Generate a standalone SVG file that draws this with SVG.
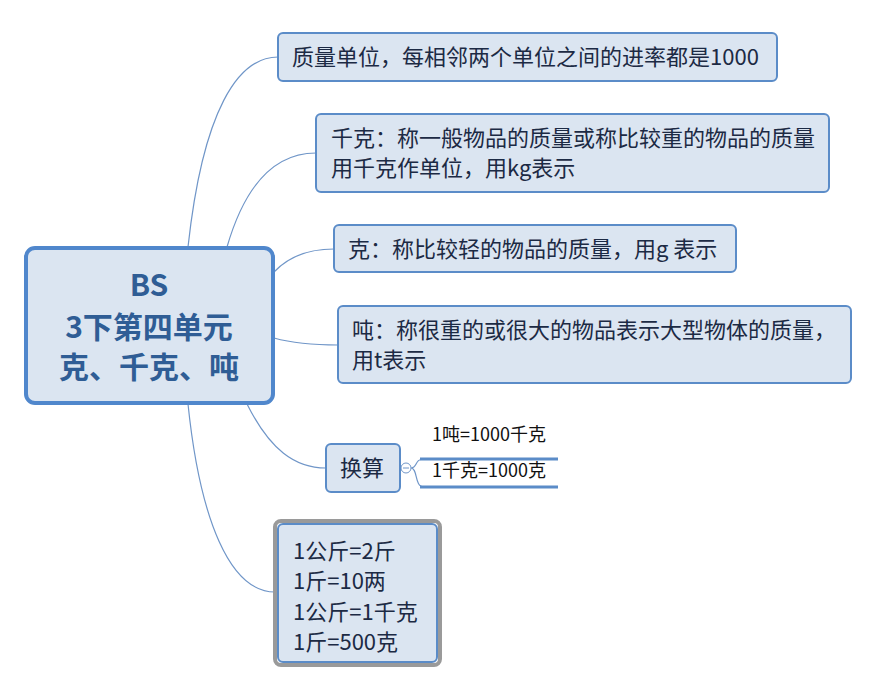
<svg xmlns="http://www.w3.org/2000/svg" width="886" height="688" viewBox="0 0 886 688">
<style>
.box{fill:#dbe5f1;stroke:#5b8cc8;stroke-width:2}
.t{font-family:"Noto Sans CJK SC","Microsoft YaHei",sans-serif;font-size:22px;fill:#1c2a44}
.s{font-family:"Noto Sans CJK SC",sans-serif;font-size:18px;fill:#111}
.c{font-family:"Noto Sans CJK SC",sans-serif;font-size:30px;font-weight:bold;fill:#2f5d95;text-anchor:middle}
.ln{fill:none;stroke:#7096c8;stroke-width:1.2}
</style>
<rect width="886" height="688" fill="#ffffff"/>
<g id="connectors">
<path class="ln" d="M188,247 C203,110 238,57 278,57"/>
<path class="ln" d="M227,247 C245,185 275,153 316,153"/>
<path class="ln" d="M274,272 C290,255 310,249 334,249"/>
<path class="ln" d="M274,338 C292,343 312,345 338,345"/>
<path class="ln" d="M247,404 C270,450 295,468 326,468"/>
<path class="ln" d="M188,404 C200,520 230,592 275,592"/>
<path class="ln" d="M411,468 C418,468 414,459 424,459 M411,468 C418,468 414,487 424,487"/>
<path d="M420,459 H558 M420,487 H558" fill="none" stroke="#5b8cc8" stroke-width="3"/>
<circle cx="406" cy="468" r="5" fill="#fff" stroke="#7096c8" stroke-width="1"/>
<path d="M403,468 H409" stroke="#7096c8" stroke-width="1"/>
</g>
<g id="center">
<rect x="26" y="248" width="247" height="155" rx="9" fill="#dbe5f1" stroke="#5087cc" stroke-width="4"/>
<text class="c" x="149" y="296">BS</text>
<text class="c" x="149" y="338">3下第四单元</text>
<text class="c" x="149" y="378">克、千克、吨</text>
</g>
<g id="n1">
<rect class="box" x="278" y="33" width="499" height="48" rx="5"/>
<text class="t" x="292" y="65">质量单位，每相邻两个单位之间的进率都是1000</text>
</g>
<g id="n2">
<rect class="box" x="316" y="114" width="513" height="78" rx="5"/>
<text class="t" x="331" y="146">千克：称一般物品的质量或称比较重的物品的质量</text>
<text class="t" x="331" y="176">用千克作单位，用kg表示</text>
</g>
<g id="n3">
<rect class="box" x="334" y="225" width="402" height="47" rx="5"/>
<text class="t" x="348" y="257">克：称比较轻的物品的质量，用g 表示</text>
</g>
<g id="n4">
<rect class="box" x="338" y="306" width="513" height="77" rx="5"/>
<text class="t" x="352" y="338">吨：称很重的或很大的物品表示大型物体的质量，</text>
<text class="t" x="352" y="368">用t表示</text>
</g>
<g id="n5">
<rect class="box" x="326" y="444" width="74" height="48" rx="5"/>
<text class="t" x="340" y="476">换算</text>
</g>
<g id="leaf1">
<text class="s" x="432" y="441">1吨=1000千克</text>
</g>
<g id="leaf2">
<text class="s" x="432" y="477">1千克=1000克</text>
</g>
<g id="n6">
<rect x="275" y="521" width="165" height="144" rx="6" fill="none" stroke="#9a9a9a" stroke-width="4"/>
<rect class="box" x="278" y="524" width="159" height="138" rx="5"/>
<text class="t" x="293" y="559">1公斤=2斤</text>
<text class="t" x="293" y="589">1斤=10两</text>
<text class="t" x="293" y="620">1公斤=1千克</text>
<text class="t" x="293" y="650">1斤=500克</text>
</g>
</svg>
